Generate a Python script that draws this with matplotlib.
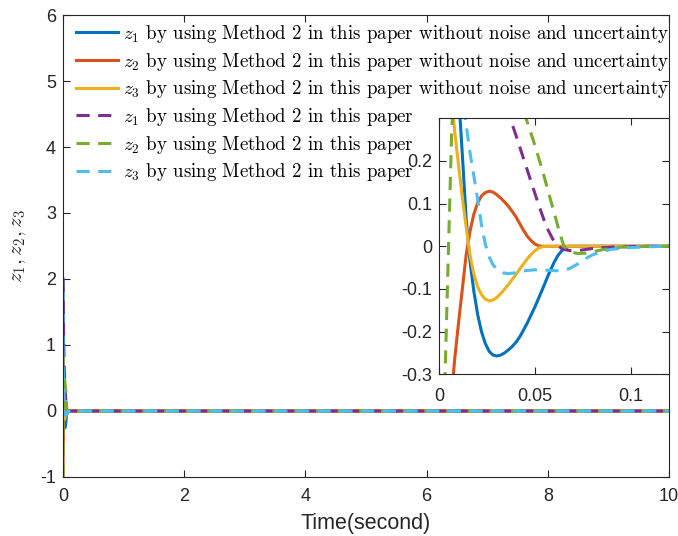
import matplotlib
matplotlib.use("Agg")
import matplotlib.pyplot as plt

plt.rcParams['font.family'] = ['Liberation Sans', 'DejaVu Sans']
plt.rcParams['mathtext.fontset'] = 'cm'
plt.rcParams['axes.unicode_minus'] = False

# colours (MATLAB default order)
C_BLUE = '#0072BD'
C_ORANGE = '#D95319'
C_YELLOW = '#EDB120'
C_PURPLE = '#7E2F8E'
C_GREEN = '#77AC30'
C_CYAN = '#4DBEEE'

# solid curves: Method 2 without noise and uncertainty
t_solid = [0, 0.002, 0.004, 0.006, 0.008, 0.010, 0.012, 0.014, 0.016, 0.018,
           0.020, 0.022, 0.024, 0.026, 0.028, 0.030, 0.032, 0.034, 0.036, 0.038,
           0.040, 0.042, 0.044, 0.046, 0.048, 0.050, 0.052, 0.054, 0.056, 0.058,
           0.060, 0.062, 0.064, 0.066, 0.068, 0.070, 0.09, 0.12, 10]
z1_clean = [2, 1.45, 1.05, 0.76, 0.54, 0.36, 0.215, 0.065, -0.035, -0.105,
            -0.16, -0.2, -0.228, -0.246, -0.255, -0.257, -0.255, -0.25, -0.243, -0.235,
            -0.225, -0.212, -0.196, -0.179, -0.16, -0.141, -0.12, -0.099, -0.077, -0.056,
            -0.037, -0.021, -0.01, -0.003, 0, 0, 0, 0, 0]
z2_clean = [-1, -0.72, -0.52, -0.37, -0.265, -0.18, -0.1, -0.02, 0.035, 0.075,
            0.102, 0.118, 0.126, 0.129, 0.127, 0.121, 0.113, 0.104, 0.094, 0.082,
            0.069, 0.053, 0.037, 0.023, 0.013, 0.005, 0.001, 0, 0, 0,
            0, 0, 0, 0, 0, 0, 0, 0, 0]
z3_clean = [1, 0.72, 0.52, 0.37, 0.27, 0.19, 0.115, 0.045, -0.02, -0.065,
            -0.095, -0.113, -0.124, -0.128, -0.126, -0.12, -0.111, -0.101, -0.09, -0.078,
            -0.066, -0.053, -0.041, -0.029, -0.019, -0.01, -0.004, -0.001, 0, 0,
            0, 0, 0, 0, 0, 0, 0, 0, 0]

# dashed curves: Method 2 in this paper
t_z1 = [0, 0.005, 0.010, 0.015, 0.020, 0.025, 0.030, 0.034, 0.037, 0.040, 0.044,
        0.048, 0.052, 0.056, 0.060, 0.064, 0.068, 0.074, 0.082, 0.095, 0.11, 0.12, 10]
z1_noisy = [2, 1.55, 1.2, 0.92, 0.7, 0.55, 0.42, 0.35, 0.3, 0.26, 0.205,
            0.15, 0.095, 0.045, 0.01, -0.006, -0.01, -0.009, -0.004, -0.001, 0, 0, 0]

t_z2 = [0, 0.0015, 0.003, 0.0048, 0.0065, 0.008, 0.010, 0.014, 0.018, 0.022, 0.026,
        0.030, 0.034, 0.038, 0.042, 0.046, 0.050, 0.054, 0.058, 0.062, 0.065,
        0.068, 0.072, 0.077, 0.085, 0.095, 0.11, 0.12, 10]
z2_noisy = [-1, -0.65, -0.3, 0.0, 0.28, 0.36, 0.45, 0.53, 0.56, 0.55, 0.52,
            0.47, 0.42, 0.38, 0.34, 0.29, 0.235, 0.175, 0.11, 0.045, 0.0,
            -0.012, -0.017, -0.016, -0.008, -0.002, 0, 0, 0]

t_z3 = [0, 0.003, 0.006, 0.009, 0.012, 0.0135, 0.016, 0.018, 0.020, 0.022, 0.024,
        0.026, 0.028, 0.030, 0.033, 0.036, 0.040, 0.045, 0.050, 0.055, 0.060,
        0.064, 0.068, 0.072, 0.076, 0.080, 0.085, 0.090, 0.100, 0.110, 0.12, 10]
z3_noisy = [1, 0.8, 0.63, 0.49, 0.36, 0.3, 0.22, 0.165, 0.11, 0.05, 0.005,
            -0.025, -0.043, -0.054, -0.062, -0.064, -0.062, -0.057, -0.055, -0.056, -0.057,
            -0.058, -0.052, -0.042, -0.03, -0.02, -0.012, -0.007, -0.003, -0.001, 0, 0]

labels = [
    r'$z_1$ by using Method 2 in this paper without noise and uncertainty',
    r'$z_2$ by using Method 2 in this paper without noise and uncertainty',
    r'$z_3$ by using Method 2 in this paper without noise and uncertainty',
    r'$z_1$ by using Method 2 in this paper',
    r'$z_2$ by using Method 2 in this paper',
    r'$z_3$ by using Method 2 in this paper',
]

LW = 2.2
DASH = (0, (4.3, 2.8))
AX_COLOR = '#262626'


def draw_curves(ax):
    ax.plot(t_solid, z1_clean, color=C_BLUE, lw=LW, label=labels[0])
    ax.plot(t_solid, z2_clean, color=C_ORANGE, lw=LW, label=labels[1])
    ax.plot(t_solid, z3_clean, color=C_YELLOW, lw=LW, label=labels[2])
    ax.plot(t_z1, z1_noisy, color=C_PURPLE, lw=LW, ls=DASH, label=labels[3])
    ax.plot(t_z2, z2_noisy, color=C_GREEN, lw=LW, ls=DASH, label=labels[4])
    ax.plot(t_z3, z3_noisy, color=C_CYAN, lw=LW, ls=DASH, label=labels[5])


def matlab_style(ax, size, xpad, ypad):
    for s in ax.spines.values():
        s.set_color(AX_COLOR)
        s.set_linewidth(0.8)
    ax.tick_params(direction='in', top=True, right=True, length=5,
                   colors=AX_COLOR, labelsize=size, width=0.8)
    ax.tick_params(axis='x', pad=xpad)
    ax.tick_params(axis='y', pad=ypad)


fig = plt.figure(figsize=(6.78, 5.36), dpi=100)

# main axes
ax = fig.add_axes([0.0929, 0.1101, 0.8938, 0.8619])
draw_curves(ax)
ax.set_xlim(0, 10)
ax.set_ylim(-1, 6)
ax.set_xticks([0, 2, 4, 6, 8, 10])
ax.set_yticks([-1, 0, 1, 2, 3, 4, 5, 6])
matlab_style(ax, 13, 8, 5)
ax.set_xlabel('Time(second)', fontsize=15.5, color=AX_COLOR, labelpad=6)
ax.set_ylabel(r'$z_1, z_2, z_3$', fontsize=15, color=AX_COLOR, labelpad=9)

leg = ax.legend(loc='upper left', bbox_to_anchor=(76 / 678, 1 - 23 / 536),
                bbox_transform=fig.transFigure, frameon=False, borderpad=0,
                borderaxespad=0, handlelength=2.2, handletextpad=0.28,
                labelspacing=0.3, prop={'family': 'cmr10', 'size': 13.6})

# zoomed inset
axin = fig.add_axes([0.648, 0.3017, 0.339, 0.4776])
draw_curves(axin)
axin.set_xlim(0, 0.12)
axin.set_ylim(-0.3, 0.3)
axin.set_xticks([0, 0.05, 0.1])
axin.set_xticklabels(['0', '0.05', '0.1'])
axin.set_yticks([-0.3, -0.2, -0.1, 0, 0.1, 0.2])
axin.set_yticklabels(['-0.3', '-0.2', '-0.1', '0', '0.1', '0.2'])
matlab_style(axin, 13, 10, 5)

fig.savefig('out.png', dpi=100)
